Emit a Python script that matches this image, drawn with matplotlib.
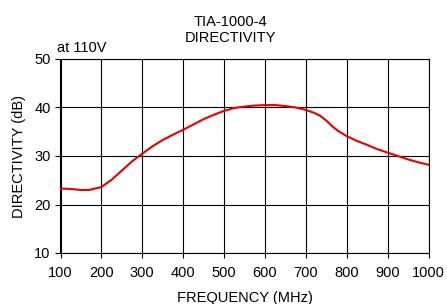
import matplotlib
matplotlib.use("Agg")
import matplotlib.pyplot as plt

freq_mhz = [100, 125, 150, 170, 200, 225, 250, 275, 300, 325, 350, 375, 400,
            425, 450, 475, 500, 525, 550, 575, 600, 625, 650, 675, 700, 720,
            735, 750, 765, 780, 800, 825, 850, 875, 900, 925, 950, 975, 1000]
directivity_db = [23.3, 23.2, 23.0, 23.0, 23.6, 25.1, 27.0, 28.9, 30.5, 32.0, 33.3, 34.4, 35.4,
                  36.5, 37.6, 38.5, 39.3, 39.9, 40.2, 40.4, 40.5, 40.5, 40.3, 40.0, 39.5, 38.9,
                  38.3, 37.3, 36.1, 35.1, 34.1, 33.1, 32.3, 31.4, 30.7, 30.0, 29.3, 28.7, 28.2]
x_ticks = [100, 200, 300, 400, 500, 600, 700, 800, 900, 1000]
y_ticks = [10, 20, 30, 40, 50]

plt.rcParams['font.family'] = ['Liberation Sans', 'DejaVu Sans']

W, H = 447, 304
fig = plt.figure(figsize=(W/100, H/100), dpi=100)
ax = fig.add_axes([60.5/W, 1 - 253/H, (428.5-60.5)/W, (253-59)/H])

ax.plot(freq_mhz, directivity_db, color='#e60000', linewidth=1.5, zorder=3)
ax.set_xlim(100, 1000)
ax.set_ylim(10, 50)
ax.set_xticks(x_ticks)
ax.set_yticks(y_ticks)
ax.tick_params(axis='both', labelsize=10.5, direction='out', length=3.6, width=0.8, colors='black')
ax.tick_params(axis='x', pad=5.5)
ax.tick_params(axis='y', pad=3.5)
ax.grid(True, color='black', linewidth=0.8)
ax.set_axisbelow(True)
for s in ax.spines.values():
    s.set_linewidth(0.8)
    s.set_color('black')

fig.text(244.5/W, 1 - 298/H, 'FREQUENCY (MHz)', ha='center', va='center', fontsize=10.5)
fig.text(19/W, 1 - 156/H, 'DIRECTIVITY (dB)', ha='center', va='center', rotation=90, fontsize=10.5)
fig.text(230/W, 1 - 30/H, 'TIA-1000-4\nDIRECTIVITY', ha='center', va='center', fontsize=10.5, linespacing=1.1)
fig.text(57/W, 1 - 47.5/H, 'at 110V', ha='left', va='center', fontsize=10.5)

fig.savefig('out.png', dpi=100)
